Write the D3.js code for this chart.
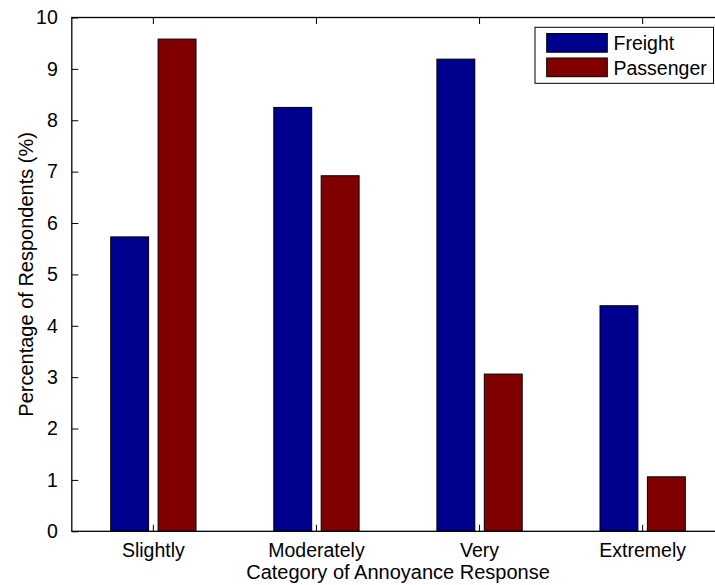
<!DOCTYPE html>
<html>
<head>
<meta charset="utf-8">
<script src="https://cdn.jsdelivr.net/npm/d3@7"></script>
<style>
  html, body { margin: 0; padding: 0; background: #fff; }
  svg { display: block; font-family: "Liberation Sans", Arial, sans-serif; }
</style>
</head>
<body>
<div id="chart"></div>
<script>
const categories = ["Slightly", "Moderately", "Very", "Extremely"];
const series_names = ["Freight", "Passenger"];
const freight = [5.73, 8.25, 9.19, 4.39];
const passenger = [9.58, 6.92, 3.06, 1.06];
const y_ticks = [0, 1, 2, 3, 4, 5, 6, 7, 8, 9, 10];
const colors = ["#00008f", "#800000"];

const width = 715, height = 585;
const plot_left = 71.8, plot_right = 724.2, plot_top = 17.5, plot_bottom = 531.3;
const font_size = 19.5;
const label_size = 20;

const svg = d3.select("#chart")
    .append("svg")
    .attr("width", width)
    .attr("height", height);

const x = d3.scaleBand()
    .domain(categories)
    .range([plot_left, plot_right]);

const bw = x.bandwidth();
const x_inner = d3.scaleBand()
    .domain(series_names)
    .range([bw * 0.2385, bw * 0.7615])
    .paddingInner(0.2);

const y = d3.scaleLinear()
    .domain([0, 10])
    .range([plot_bottom, plot_top]);

const rows = categories.map((c, i) => ({ category: c, values: [freight[i], passenger[i]] }));

// bars
const groups = svg.selectAll("g.group")
    .data(rows)
    .enter()
    .append("g")
    .attr("class", "group")
    .attr("transform", d => `translate(${x(d.category)},0)`);

groups.selectAll("rect")
    .data(d => d.values.map((v, j) => ({ name: series_names[j], value: v, j: j })))
    .enter()
    .append("rect")
    .attr("x", d => x_inner(d.name))
    .attr("y", d => y(d.value))
    .attr("width", x_inner.bandwidth())
    .attr("height", d => y(0) - y(d.value))
    .attr("fill", d => colors[d.j])
    .attr("stroke", "#000")
    .attr("stroke-width", 1);

// axes box
svg.append("rect")
    .attr("x", plot_left)
    .attr("y", plot_top)
    .attr("width", plot_right - plot_left)
    .attr("height", plot_bottom - plot_top)
    .attr("fill", "none")
    .attr("stroke", "#000")
    .attr("stroke-width", 1.3);

const y_axis = svg.append("g")
    .attr("transform", `translate(${plot_left},0)`)
    .call(d3.axisLeft(y).tickValues(y_ticks).tickFormat(d3.format("d")).tickSizeInner(-6.5).tickSizeOuter(0).tickPadding(14));
y_axis.select(".domain").remove();
y_axis.selectAll("text").attr("font-size", font_size).attr("font-family", "Liberation Sans, Arial, sans-serif").attr("fill", "#000");

const y_axis_r = svg.append("g")
    .attr("transform", `translate(${plot_right},0)`)
    .call(d3.axisRight(y).tickValues(y_ticks).tickSizeInner(-6.5).tickSizeOuter(0).tickFormat(""));
y_axis_r.select(".domain").remove();

const x_axis = svg.append("g")
    .attr("transform", `translate(0,${plot_bottom})`)
    .call(d3.axisBottom(x).tickSizeInner(-6.5).tickSizeOuter(0).tickPadding(11.5));
x_axis.select(".domain").remove();
x_axis.selectAll("text").attr("font-size", font_size).attr("font-family", "Liberation Sans, Arial, sans-serif").attr("fill", "#000");

const x_axis_t = svg.append("g")
    .attr("transform", `translate(0,${plot_top})`)
    .call(d3.axisTop(x).tickSizeInner(-6.5).tickSizeOuter(0).tickFormat(""));
x_axis_t.select(".domain").remove();

// axis labels
svg.append("text")
    .attr("x", (plot_left + plot_right) / 2)
    .attr("y", 578.5)
    .attr("text-anchor", "middle")
    .attr("font-size", label_size)
    .text("Category of Annoyance Response");

svg.append("text")
    .attr("transform", `translate(33,${(plot_top + plot_bottom) / 2}) rotate(-90)`)
    .attr("text-anchor", "middle")
    .attr("font-size", label_size)
    .text("Percentage of Respondents (%)");

// legend
const legend = svg.append("g");
legend.append("rect")
    .attr("x", 535)
    .attr("y", 27.3)
    .attr("width", 178.5)
    .attr("height", 56)
    .attr("fill", "#fff")
    .attr("stroke", "#000")
    .attr("stroke-width", 1);

series_names.forEach((name, i) => {
    legend.append("rect")
        .attr("x", 546.7)
        .attr("y", 33.5 + i * 24.5)
        .attr("width", 60.6)
        .attr("height", 18.7)
        .attr("fill", colors[i])
        .attr("stroke", "#000")
        .attr("stroke-width", 1);
    legend.append("text")
        .attr("x", 613.5)
        .attr("y", 50 + i * 24.5)
        .attr("font-size", font_size)
        .text(name);
});
</script>
</body>
</html>
